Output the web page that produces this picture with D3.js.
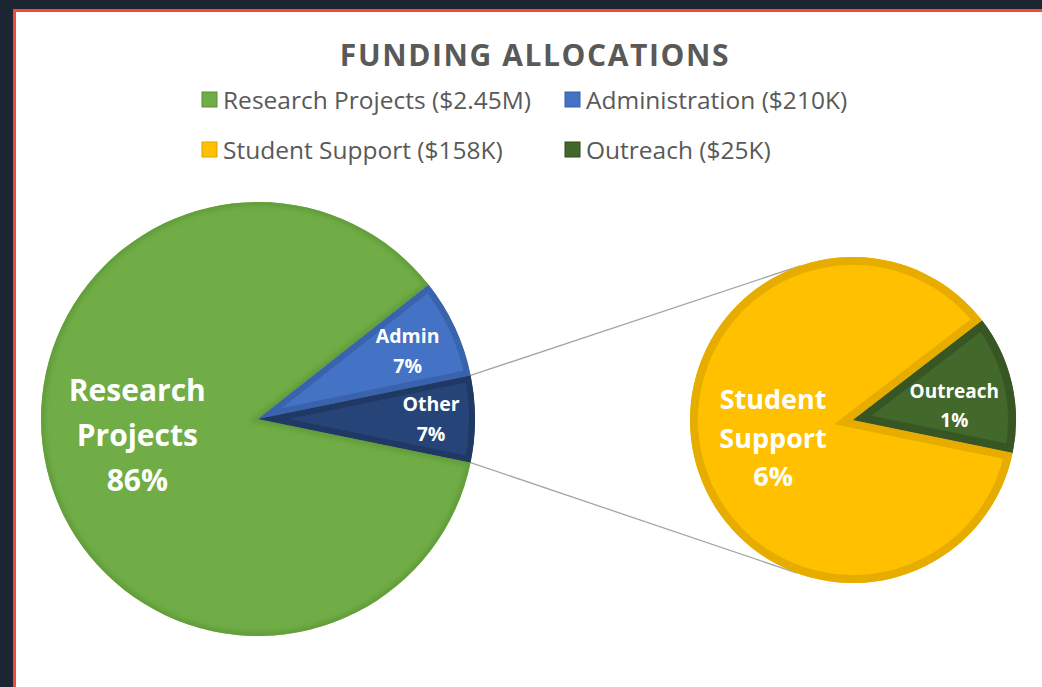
<!DOCTYPE html>
<html>
<head>
<meta charset="utf-8">
<script src="https://cdn.jsdelivr.net/npm/d3@7"></script>
<style>
  body { margin: 0; background: #1c2632; overflow: hidden; font-family: "Open Sans", Lato, sans-serif; }
  #panel { position: absolute; left: 13px; top: 9px; width: 1100px; height: 760px; background: #fff; border: 3px solid #ef4a3c; }
  #chart { position: absolute; left: 0; top: 0; }
</style>
</head>
<body>
<div id="panel"></div>
<svg id="chart" width="1042" height="687"></svg>
<script>
// values in $K ; "Other" is the sum of the split-out slices
var mainCats = ["Research Projects", "Administration", "Other"];
var mainValues = [2450, 210, 183];
var mainLabels = [["Research", "Projects", "86%"], ["Admin", "7%"], ["Other", "7%"]];

var subCats = ["Student Support", "Outreach"];
var subValues = [158, 25];
var subLabels = [["Student", "Support", "6%"], ["Outreach", "1%"]];

var legendLabels = ["Research Projects ($2.45M)", "Administration ($210K)", "Student Support ($158K)", "Outreach ($25K)"];

var mainFill = ["#70ad47", "#4472c4", "#264478"];
var mainBand = ["#5f9a39", "#3a63ae", "#1f3864"];
var subFill = ["#ffc000", "#43682b"];
var subBand = ["#e6ad00", "#375623"];
var legendFill = ["#70ad47", "#4472c4", "#ffc000", "#43682b"];
var legendStroke = ["#5a8f38", "#365fa8", "#d9a300", "#2f4a1f"];

var svg = d3.select("#chart");

// title
svg.append("text")
    .attr("x", 535).attr("y", 66)
    .attr("text-anchor", "middle")
    .attr("font-size", 30).attr("font-weight", "bold")
    .attr("letter-spacing", 1.6)
    .attr("fill", "#595959")
    .text("FUNDING ALLOCATIONS");

// legend, two columns
var legendX = [202, 565];
var legendY = [100, 150];
var legend = svg.selectAll(".leg").data(legendLabels).enter().append("g")
    .attr("transform", function (d, i) { return "translate(" + legendX[i % 2] + "," + legendY[Math.floor(i / 2)] + ")"; });
legend.append("rect")
    .attr("x", 0).attr("y", -8).attr("width", 15).attr("height", 15)
    .attr("fill", function (d, i) { return legendFill[i]; })
    .attr("stroke", function (d, i) { return legendStroke[i]; });
legend.append("text")
    .attr("x", 21).attr("y", 0)
    .attr("dy", "0.35em")
    .attr("font-size", 24.5)
    .attr("fill", "#595959")
    .text(function (d) { return d; });

var defs = svg.append("defs");
defs.append("filter").attr("id", "soft")
    .append("feGaussianBlur").attr("stdDeviation", 2);

// the "Other" slice is centred on 3 o'clock, the second pie ends at the same angle
var otherAngle = 2 * Math.PI * mainValues[2] / d3.sum(mainValues);
var endA = Math.PI / 2 + otherAngle / 2;

function drawPie(cx, cy, r, values, fills, bands, bandW, labels, labelR, labelDy, fontSizes, lineHs, prefix, blurFirst) {
    var pie = d3.pie().sort(null).value(function (d) { return d; })
        .startAngle(endA - 2 * Math.PI).endAngle(endA);
    var arc = d3.arc().innerRadius(0).outerRadius(r);
    var arcs = pie(values);
    var g = svg.append("g").attr("transform", "translate(" + cx + "," + cy + ")");

    arcs.forEach(function (a, i) {
        defs.append("clipPath").attr("id", prefix + i)
            .append("path").attr("d", arc(a));
    });
    g.selectAll(".slice").data(arcs).enter().append("path")
        .attr("d", arc)
        .attr("fill", function (d, i) { return fills[i]; });
    // inner band along each slice edge
    g.selectAll(".band").data(arcs).enter().append("g")
        .attr("clip-path", function (d, i) { return "url(#" + prefix + i + ")"; })
        .append("path")
        .attr("d", arc)
        .attr("fill", "none")
        .attr("stroke", function (d, i) { return bands[i]; })
        .attr("stroke-width", function (d, i) { return bandW[i] * 2; })
        .attr("stroke-linejoin", "miter")
        .attr("stroke-miterlimit", 20)
        .attr("opacity", function (d, i) { return (blurFirst && i === 0) ? 0.8 : 1; })
        .attr("filter", function (d, i) { return (blurFirst && i === 0) ? "url(#soft)" : null; });

    // labels
    arcs.forEach(function (a, i) {
        var c = d3.arc().innerRadius(labelR[i]).outerRadius(labelR[i]).centroid(a);
        var lines = labels[i];
        var t = svg.append("text")
            .attr("text-anchor", "middle")
            .attr("font-weight", "bold")
            .attr("font-size", fontSizes[i])
            .attr("fill", "#fff");
        lines.forEach(function (s, k) {
            t.append("tspan")
                .attr("x", cx + c[0])
                .attr("y", cy + c[1] + labelDy[i] + (k - (lines.length - 1) / 2) * lineHs[i])
                .attr("dy", "0.35em")
                .text(s);
        });
    });
    return arcs;
}

var mainCx = 258, mainCy = 419, mainR = 217;
var subCx = 853, subCy = 420, subR = 163;

// connector lines from the "Other" slice to the second pie
var subTop = -0.33, subBottom = Math.PI + 0.35;
var conn = [
    [[mainCx + mainR * Math.sin(endA - otherAngle), mainCy - mainR * Math.cos(endA - otherAngle)],
     [subCx + subR * Math.sin(subTop), subCy - subR * Math.cos(subTop)]],
    [[mainCx + mainR * Math.sin(endA), mainCy - mainR * Math.cos(endA)],
     [subCx + subR * Math.sin(subBottom), subCy - subR * Math.cos(subBottom)]]
];
svg.selectAll(".conn").data(conn).enter().append("path")
    .attr("d", d3.line())
    .attr("fill", "none")
    .attr("stroke", "#a5a5a5")
    .attr("stroke-width", 1.3);

drawPie(mainCx, mainCy, mainR, mainValues, mainFill, mainBand, [4, 6, 6],
    mainLabels, [124, 165, 173], [-12, 2, 0], [30, 19.5, 19.5], [45, 30, 30], "mclip", true);
drawPie(subCx, subCy, subR, subValues, subFill, subBand, [8, 8],
    subLabels, [82, 104], [0, 9], [27, 19], [38.5, 29], "sclip", false);
</script>
</body>
</html>
